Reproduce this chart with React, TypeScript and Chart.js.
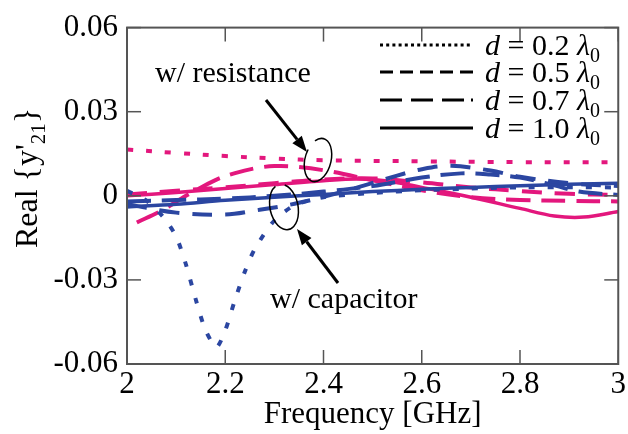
import React, { useEffect, useRef } from "react";
import { Chart, registerables } from "chart.js";

Chart.register(...registerables);

const PINK = "#E3177D";
const BLUE = "#2B46A1";
const FONT = '"Liberation Serif", "Times New Roman", serif';

// Axis ticks
const xTickValues = [2, 2.2, 2.4, 2.6, 2.8, 3];
const xTickLabels = ["2", "2.2", "2.4", "2.6", "2.8", "3"];
const yTickValues = [-0.06, -0.03, 0, 0.03, 0.06];
const yTickLabels = ["-0.06", "-0.03", "0", "0.03", "0.06"];

// w/ resistance (pink)
const resD02X = [2.0, 2.1, 2.2, 2.3, 2.4, 2.6, 2.8, 3.0];
const resD02Y = [0.0165, 0.0153, 0.0142, 0.0133, 0.0127, 0.0123, 0.012, 0.012];
const resD05X = [2.0, 2.1, 2.2, 2.3, 2.4, 2.5, 2.6, 2.7, 2.8, 2.9, 3.0];
const resD05Y = [0.0005, 0.0018, 0.003, 0.0045, 0.0058, 0.0062, 0.0048, 0.003, 0.0017, 0.0007, 0.0003];
const resD07X = [2.02, 2.07, 2.12, 2.18, 2.22, 2.26, 2.3, 2.35, 2.42, 2.5, 2.6, 2.7, 2.8, 2.9, 3.0];
const resD07Y = [-0.0095, -0.0053, 0.0, 0.0056, 0.0081, 0.0098, 0.0106, 0.0103, 0.0085, 0.0055, 0.002, -0.0005, -0.0015, -0.0018, -0.002];
const resD10X = [2.0, 2.1, 2.2, 2.3, 2.4, 2.47, 2.53, 2.6, 2.7, 2.8, 2.87, 2.93, 3.0];
const resD10Y = [0.0, 0.0012, 0.0026, 0.004, 0.0054, 0.006, 0.0053, 0.003, -0.0005, -0.0045, -0.0072, -0.0076, -0.0056];

// w/ capacitor (blue)
const capD02X = [2.0, 2.04, 2.073, 2.1, 2.12, 2.14, 2.16, 2.182, 2.2, 2.22, 2.24, 2.26, 2.3, 2.34, 2.4, 2.5, 2.6, 2.8, 3.0];
const capD02Y = [0.0018, -0.0018, -0.0074, -0.0145, -0.0245, -0.037, -0.048, -0.054, -0.048, -0.037, -0.027, -0.019, -0.0088, -0.0035, -0.0005, 0.001, 0.002, 0.003, 0.003];
const capD05X = [2.0, 2.1, 2.2, 2.27, 2.35, 2.45, 2.55, 2.6, 2.66, 2.74, 2.8, 2.9, 3.0];
const capD05Y = [-0.003, -0.006, -0.0067, -0.005, -0.0025, 0.002, 0.0072, 0.0095, 0.0107, 0.009, 0.0068, 0.0045, 0.0035];
const capD07X = [2.0, 2.1, 2.2, 2.3, 2.4, 2.5, 2.6, 2.68, 2.74, 2.8, 2.86, 2.92, 3.0];
const capD07Y = [-0.002, -0.0015, -0.001, 0.0, 0.0015, 0.0035, 0.0065, 0.008, 0.0076, 0.0065, 0.0042, 0.0015, 0.0003];
const capD10X = [2.0, 2.1, 2.2, 2.3, 2.4, 2.5, 2.6, 2.7, 2.8, 2.9, 3.0];
const capD10Y = [-0.004, -0.003, -0.0016, -0.0005, 0.0005, 0.0015, 0.0023, 0.003, 0.0036, 0.0041, 0.0045];

const legendLabels = ["0.2", "0.5", "0.7", "1.0"];

const DOT = [6, 13];
const DASH = [20, 13];
const LONG = [24, 11];

const pts = (xs: number[], ys: number[]) => xs.map((x, i) => ({ x, y: ys[i] }));

const overlay = {
  id: "overlay",
  afterDatasetsDraw(chart: any) {
    const { ctx, chartArea: a, scales } = chart;
    const xs = scales.x;
    const ys = scales.y;
    ctx.save();
    const line = (x1: number, y1: number, x2: number, y2: number) => {
      ctx.beginPath();
      ctx.moveTo(x1, y1);
      ctx.lineTo(x2, y2);
      ctx.stroke();
    };
    // frame
    ctx.setLineDash([]);
    ctx.strokeStyle = "#555";
    ctx.lineWidth = 2;
    ctx.strokeRect(a.left, a.top, a.right - a.left, a.bottom - a.top);
    // inward ticks
    ctx.lineWidth = 1.5;
    xTickValues.forEach((v) => {
      const px = xs.getPixelForValue(v);
      line(px, a.bottom, px, a.bottom - 14);
      line(px, a.top, px, a.top + 14);
    });
    yTickValues.forEach((v) => {
      const py = ys.getPixelForValue(v);
      line(a.left, py, a.left + 14, py);
      line(a.right, py, a.right - 14, py);
    });

    // legend
    ctx.strokeStyle = "#000";
    ctx.fillStyle = "#000";
    ctx.lineWidth = 3;
    ctx.lineCap = "butt";
    const dashes = [[3, 3.2], [13, 7], [22, 9, 22, 9, 22, 7, 3, 100], []];
    const rowY = [45, 72, 100, 128];
    legendLabels.forEach((lab, i) => {
      const y = rowY[i];
      ctx.setLineDash(dashes[i]);
      line(380, y, 473, y);
      ctx.setLineDash([]);
      let x = 485;
      const base = y + 10;
      ctx.textBaseline = "alphabetic";
      ctx.textAlign = "left";
      ctx.font = `italic 30px ${FONT}`;
      ctx.fillText("d", x, base);
      x += ctx.measureText("d").width;
      ctx.font = `30px ${FONT}`;
      const mid = " = " + lab + " ";
      ctx.fillText(mid, x, base);
      x += ctx.measureText(mid).width;
      ctx.font = `italic 30px ${FONT}`;
      ctx.fillText("\u03bb", x, base);
      x += ctx.measureText("\u03bb").width;
      ctx.font = `20px ${FONT}`;
      ctx.fillText("0", x, base + 7);
    });

    // y-axis title
    ctx.save();
    ctx.translate(37, 178);
    ctx.rotate(-Math.PI / 2);
    ctx.textBaseline = "alphabetic";
    ctx.textAlign = "left";
    const main1 = "Real {y'";
    const sub = "21";
    const main2 = "}";
    ctx.font = `32px ${FONT}`;
    const w1 = ctx.measureText(main1).width;
    const w3 = ctx.measureText(main2).width;
    ctx.font = `21px ${FONT}`;
    const w2 = ctx.measureText(sub).width;
    let tx = -(w1 + w2 + w3) / 2;
    ctx.font = `32px ${FONT}`;
    ctx.fillText(main1, tx, 0);
    tx += w1;
    ctx.font = `21px ${FONT}`;
    ctx.fillText(sub, tx, 8);
    tx += w2;
    ctx.font = `32px ${FONT}`;
    ctx.fillText(main2, tx, 0);
    ctx.restore();

    // x-axis title
    ctx.font = `31px ${FONT}`;
    ctx.textAlign = "center";
    ctx.fillText("Frequency [GHz]", (a.left + a.right) / 2, 423);

    // annotations
    ctx.font = `30px ${FONT}`;
    ctx.textAlign = "left";
    ctx.fillText("w/ resistance", 155, 82);
    ctx.fillText("w/ capacitor", 270, 308);

    const arrow = (x1: number, y1: number, x2: number, y2: number) => {
      ctx.lineWidth = 3;
      const ang = Math.atan2(y2 - y1, x2 - x1);
      const hl = 16;
      const hw = 6;
      const bx = x2 - hl * Math.cos(ang);
      const by = y2 - hl * Math.sin(ang);
      line(x1, y1, bx, by);
      ctx.beginPath();
      ctx.moveTo(x2, y2);
      ctx.lineTo(bx + hw * Math.sin(ang), by - hw * Math.cos(ang));
      ctx.lineTo(bx - hw * Math.sin(ang), by + hw * Math.cos(ang));
      ctx.closePath();
      ctx.fill();
    };
    arrow(266, 100, 307, 152);
    arrow(338, 283, 297, 229);

    ctx.lineWidth = 1.5;
    ctx.beginPath();
    ctx.ellipse(318, 160, 13, 22, 0.25, -2.2, 3.5);
    ctx.stroke();
    ctx.beginPath();
    ctx.ellipse(284, 207, 14, 23, -0.2, -1.2, 4.4);
    ctx.stroke();

    ctx.restore();
  },
};

export default function App() {
  const ref = useRef<HTMLCanvasElement | null>(null);
  useEffect(() => {
    let chart: any = null;
    let cancelled = false;
    const mk = (xs: number[], ys: number[], color: string, dash: number[], width: number, tension = 0.35) => ({
      data: pts(xs, ys),
      borderColor: color,
      backgroundColor: color,
      borderWidth: width,
      borderDash: dash,
      borderCapStyle: "butt",
      pointRadius: 0,
      tension,
      fill: false,
    });
    const build = () => {
      if (cancelled || !ref.current) return;
      chart = new Chart(ref.current, {
        type: "line",
        data: {
          datasets: [
            mk(capD02X, capD02Y, BLUE, DOT, 4, 0.25),
            mk(capD05X, capD05Y, BLUE, DASH, 4),
            mk(capD07X, capD07Y, BLUE, LONG, 4),
            mk(capD10X, capD10Y, BLUE, [], 3.5),
            mk(resD02X, resD02Y, PINK, DOT, 4),
            mk(resD05X, resD05Y, PINK, DASH, 4),
            mk(resD07X, resD07Y, PINK, LONG, 4),
            mk(resD10X, resD10Y, PINK, [], 3.5),
          ] as any,
        },
        options: {
          responsive: false,
          animation: false,
          layout: { padding: { top: 22, right: 7, left: 0, bottom: 0 } },
          plugins: { legend: { display: false }, tooltip: { enabled: false } },
          scales: {
            x: {
              type: "linear",
              min: 2,
              max: 3,
              afterBuildTicks: (s: any) => {
                s.ticks = xTickValues.map((v) => ({ value: v }));
              },
              afterFit: (s: any) => {
                s.height = 70;
              },
              grid: { display: false, drawTicks: false },
              border: { display: false },
              ticks: {
                padding: 2,
                maxRotation: 0,
                autoSkip: false,
                color: "#000",
                font: { family: FONT, size: 31 },
                callback: (_v: any, i: number) => xTickLabels[i],
              },
            },
            y: {
              type: "linear",
              min: -0.06,
              max: 0.06,
              afterBuildTicks: (s: any) => {
                s.ticks = yTickValues.map((v) => ({ value: v }));
              },
              afterFit: (s: any) => {
                s.width = 127;
              },
              grid: { display: false, drawTicks: false },
              border: { display: false },
              ticks: {
                padding: 9,
                autoSkip: false,
                color: "#000",
                font: { family: FONT, size: 31 },
                callback: (_v: any, i: number) => yTickLabels[i],
              },
            },
          },
        },
        plugins: [overlay],
      } as any);
    };
    const fonts: any = (document as any).fonts;
    if (fonts && fonts.load) {
      Promise.all([
        fonts.load('30px "Liberation Serif"'),
        fonts.load('italic 30px "Liberation Serif"'),
        fonts.load('20px "Liberation Serif"'),
      ])
        .catch(() => null)
        .then(build);
    } else {
      build();
    }
    return () => {
      cancelled = true;
      if (chart) chart.destroy();
    };
  }, []);
  return (
    <div style={{ position: "absolute", left: 0, top: 0, width: 628, height: 434, background: "#fff" }}>
      <canvas ref={ref} width={628} height={434} />
    </div>
  );
}
